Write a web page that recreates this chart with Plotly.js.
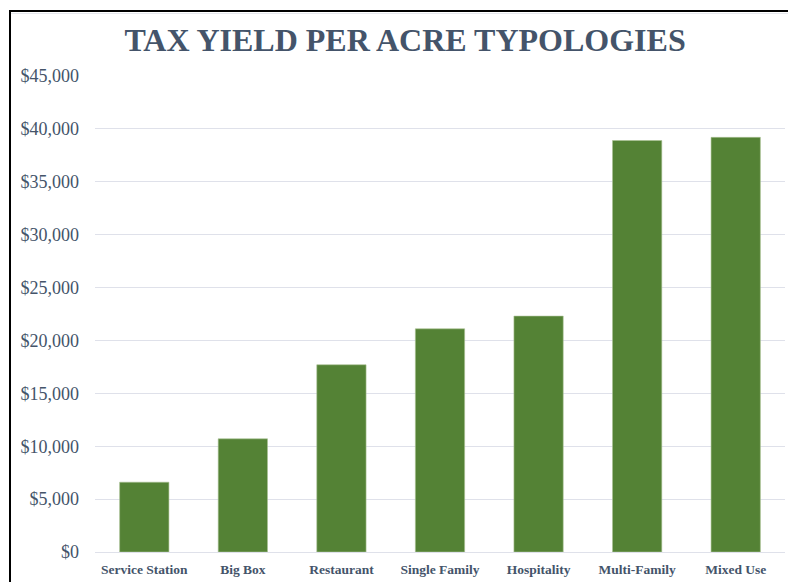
<!DOCTYPE html>
<html>
<head>
<meta charset="utf-8">
<script src="https://cdn.plot.ly/plotly-3.0.1.min.js"></script>
<style>
  html, body { margin: 0; padding: 0; background: #fff; }
  #wrap { position: relative; width: 788px; height: 582px; overflow: hidden; }
  #chart { position: absolute; left: 0; top: 0; width: 788px; height: 582px; }
  .bt { position: absolute; left: 9px; top: 10px; width: 779px; height: 2px; background: #000; }
  .bt2 { position: absolute; left: 11px; top: 13px; width: 777px; height: 1px; background: #e6e8ee; }
  .bl { position: absolute; left: 9px; top: 10px; width: 2px; height: 572px; background: #000; }
</style>
</head>
<body>
<div id="wrap">
  <div id="chart"></div>
  <div class="bt"></div>
  <div class="bt2"></div>
  <div class="bl"></div>
</div>
<script>
const categories = ["Service Station", "Big Box", "Restaurant", "Single Family", "Hospitality", "Multi-Family", "Mixed Use"];
const taxYield = [6600, 10700, 17700, 21100, 22300, 38900, 39200];
const titleText = "TAX YIELD PER ACRE TYPOLOGIES";

const trace = {
  type: "bar",
  x: categories,
  y: taxYield,
  marker: { color: "#548235", line: { color: "#a9c193", width: 0.6 } },
  hoverinfo: "x+y"
};

const layout = {
  width: 788,
  height: 582,
  margin: { l: 95, r: 3, t: 76, b: 30 },
  paper_bgcolor: "#ffffff",
  plot_bgcolor: "#ffffff",
  bargap: 0.5,
  showlegend: false,
  title: {
    text: "<b>" + titleText + "</b>",
    font: { family: "Liberation Serif, Times New Roman, serif", size: 32, color: "#44546a" },
    xref: "container", yref: "container",
    x: 0.514, xanchor: "center",
    y: 0.931, yanchor: "middle"
  },
  xaxis: {
    type: "category",
    showgrid: false,
    showline: false,
    zeroline: false,
    ticks: "",
    ticklabelstandoff: 7,
    tickfont: { family: "Liberation Serif, Times New Roman, serif", size: 13.5, color: "#44546a", weight: "bold" }
  },
  yaxis: {
    range: [0, 45000],
    dtick: 5000,
    tickprefix: "$",
    tickformat: ",d",
    showgrid: true,
    gridcolor: "#dfe1ea",
    gridwidth: 1,
    zeroline: true,
    zerolinecolor: "#dfe1ea",
    zerolinewidth: 1,
    showline: false,
    ticks: "",
    ticklabelstandoff: 15,
    tickfont: { family: "Liberation Serif, Times New Roman, serif", size: 18, color: "#44546a" }
  }
};

Plotly.newPlot("chart", [trace], layout, { displayModeBar: false, staticPlot: true });
</script>
</body>
</html>
